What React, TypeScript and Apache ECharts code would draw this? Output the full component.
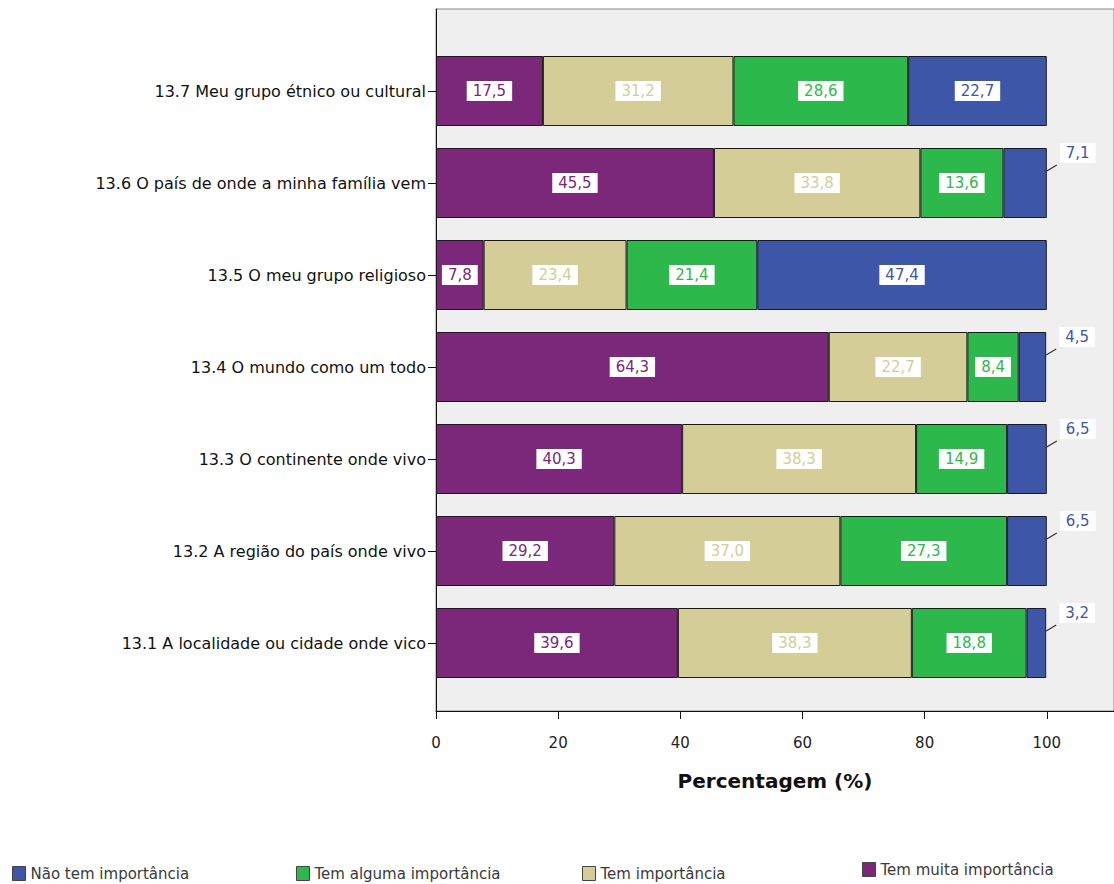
import React, { useEffect, useRef } from "react";
import * as echarts from "echarts";

const categories = [
  "13.1 A localidade ou cidade onde vico",
  "13.2 A região do país onde vivo",
  "13.3 O continente onde vivo",
  "13.4 O mundo como um todo",
  "13.5 O meu grupo religioso",
  "13.6 O país de onde a minha família vem",
  "13.7 Meu grupo étnico ou cultural",
];
const muitaImportancia = [39.6, 29.2, 40.3, 64.3, 7.8, 45.5, 17.5];
const temImportancia = [38.3, 37.0, 38.3, 22.7, 23.4, 33.8, 31.2];
const algumaImportancia = [18.8, 27.3, 14.9, 8.4, 21.4, 13.6, 28.6];
const naoTemImportancia = [3.2, 6.5, 6.5, 4.5, 47.4, 7.1, 22.7];
const xTicks = [0, 20, 40, 60, 80, 100];

const FONT = "DejaVu Sans";
const COLORS = {
  muita: "#7b287a",
  tem: "#d4cd98",
  alguma: "#2db84b",
  nao: "#3e56a8",
};
const SMALL_LIMIT = 10;

const fmt = (v: number) => v.toFixed(1).replace(".", ",");

export default function App() {
  const ref = useRef<HTMLDivElement>(null);
  useEffect(() => {
    if (!ref.current) return;
    const chart = echarts.init(ref.current, null, { renderer: "svg" });

    const mkSeries = (name: string, data: number[], color: string, small: boolean) => ({
      name,
      type: "bar",
      stack: "total",
      xAxisIndex: 1,
      yAxisIndex: 1,
      barWidth: 70,
      itemStyle: { color, borderColor: "#1a1a1a", borderWidth: 1 },
      data: data.map((v) => {
        const isSmall = small && v < SMALL_LIMIT;
        return {
          value: v,
          label: isSmall ? { position: "right", distance: 5 } : undefined,
        };
      }),
      label: {
        show: true,
        position: "inside",
        formatter: (p: any) => fmt(p.value),
        color,
        fontFamily: FONT,
        fontSize: 15,
        backgroundColor: "#ffffff",
        padding: [3, 6, 2, 6],
      },
      labelLayout: small
        ? (params: any) => {
            if (data[params.dataIndex] < SMALL_LIMIT) return { dx: 8, dy: -30 };
            return {};
          }
        : undefined,
    });

    // leader lines for the small outside labels, positioned through the axis scales
    const leaderData = categories
      .map((_, i) => [
        muitaImportancia[i] + temImportancia[i] + algumaImportancia[i] + naoTemImportancia[i],
        i,
        naoTemImportancia[i],
      ])
      .filter((d) => d[2] < SMALL_LIMIT);

    const legendBase = {
      orient: "horizontal",
      itemWidth: 13,
      itemHeight: 14,
      icon: "rect",
      textStyle: { fontFamily: FONT, fontSize: 15, color: "#3a3a3a" },
      itemGap: 4,
    };
    const legendItem = (name: string) => [
      { name, itemStyle: { borderColor: "#444", borderWidth: 1 } },
    ];

    chart.setOption({
      animation: false,
      textStyle: { fontFamily: FONT },
      grid: [
        {
          left: 436,
          right: 0,
          top: 9,
          bottom: 173,
          show: true,
          backgroundColor: "#efefef",
          borderColor: "#888",
          borderWidth: 1,
        },
        { left: 436, right: 0, top: 45, bottom: 195 },
      ],
      legend: [
        { ...legendBase, left: 7, top: 861, data: legendItem("Não tem importância") },
        { ...legendBase, left: 291, top: 861, data: legendItem("Tem alguma importância") },
        { ...legendBase, left: 577, top: 861, data: legendItem("Tem importância") },
        { ...legendBase, left: 857, top: 857, data: legendItem("Tem muita importância") },
      ],
      xAxis: [
        {
          type: "value",
          gridIndex: 0,
          min: 0,
          max: 111,
          interval: 20,
          name: "Percentagem (%)",
          nameLocation: "middle",
          nameGap: 60,
          nameTextStyle: { fontFamily: FONT, fontSize: 20, fontWeight: "bold", color: "#111" },
          axisLine: { show: true, lineStyle: { color: "#111", width: 1 } },
          axisTick: { show: true, length: 8, lineStyle: { color: "#111" } },
          axisLabel: {
            fontFamily: FONT,
            fontSize: 15,
            color: "#222",
            margin: 24,
            showMaxLabel: false,
            formatter: (v: number) => (xTicks.includes(v) ? String(v) : ""),
          },
          splitLine: { show: false },
        },
        {
          type: "value",
          gridIndex: 1,
          min: 0,
          max: 111,
          show: false,
        },
      ],
      yAxis: [
        {
          type: "value",
          gridIndex: 0,
          min: 0,
          max: 1,
          axisLine: { show: true, lineStyle: { color: "#111", width: 1 } },
          axisTick: { show: false },
          axisLabel: { show: false },
          splitLine: { show: false },
        },
        {
          type: "category",
          gridIndex: 1,
          data: categories,
          axisLine: { show: false },
          axisTick: { show: true, alignWithLabel: true, length: 8, lineStyle: { color: "#111" } },
          axisLabel: { fontFamily: FONT, fontSize: 16, color: "#111", margin: 10 },
        },
      ],
      series: [
        mkSeries("Tem muita importância", muitaImportancia, COLORS.muita, false),
        mkSeries("Tem importância", temImportancia, COLORS.tem, false),
        mkSeries("Tem alguma importância", algumaImportancia, COLORS.alguma, false),
        mkSeries("Não tem importância", naoTemImportancia, COLORS.nao, true),
        {
          type: "custom",
          xAxisIndex: 1,
          yAxisIndex: 1,
          silent: true,
          z: 5,
          data: leaderData,
          renderItem: (params: any, api: any) => {
            const p = api.coord([api.value(0), api.value(1)]);
            return {
              type: "line",
              shape: { x1: p[0], y1: p[1] - 12, x2: p[0] + 10, y2: p[1] - 18 },
              style: { stroke: "#333", lineWidth: 1.2 },
            };
          },
        },
      ],
    });
    return () => chart.dispose();
  }, []);
  return <div ref={ref} style={{ width: 1114, height: 884, position: "absolute", left: 0, top: 0 }} />;
}
